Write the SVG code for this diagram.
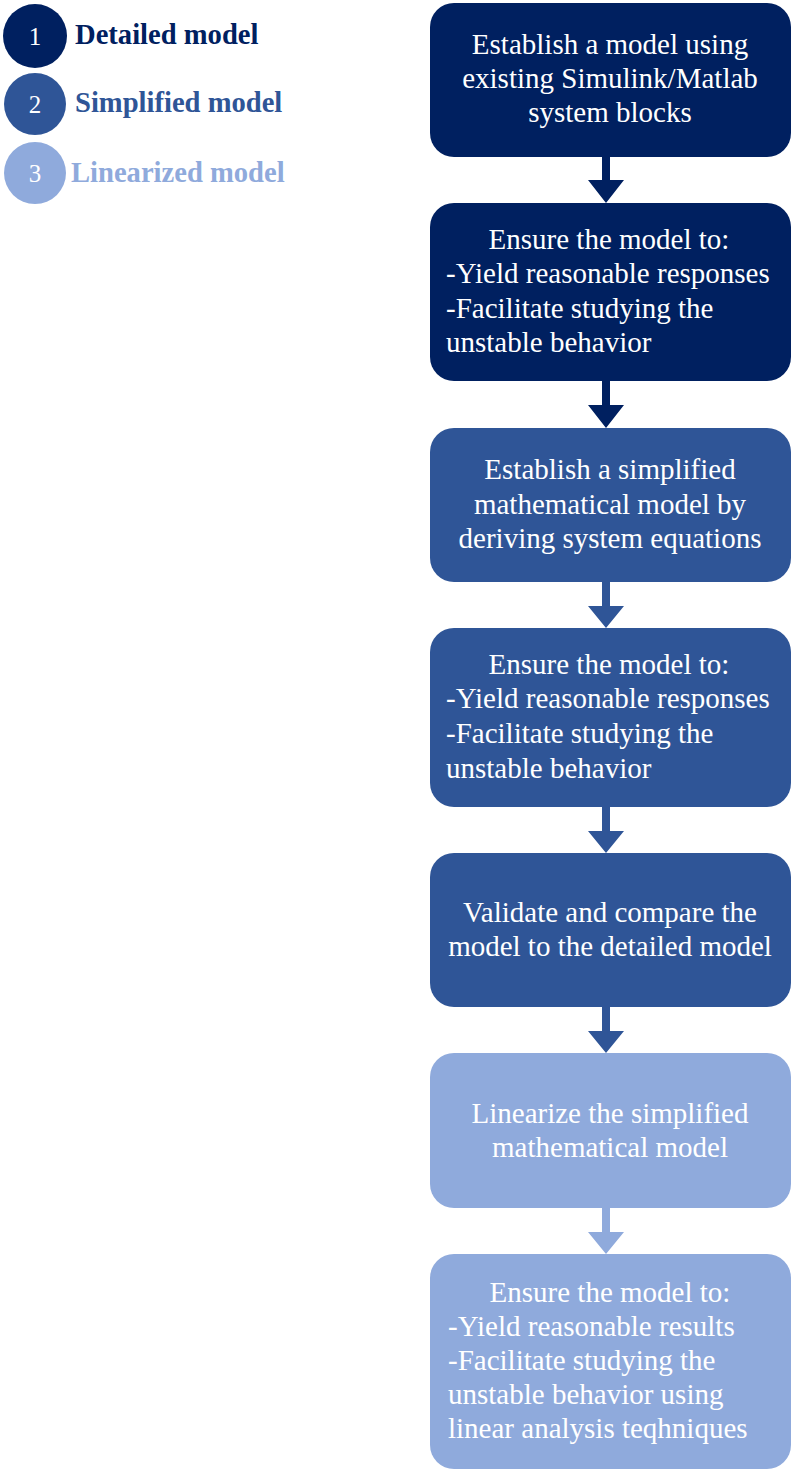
<svg xmlns="http://www.w3.org/2000/svg" width="791" height="1470" viewBox="0 0 791 1470">
<style>
.t{font-family:"Liberation Serif","Times New Roman",serif;font-size:29px;fill:#fff}
.c{text-anchor:middle}
.lg{font-family:"Liberation Serif","Times New Roman",serif;font-size:28.6px;font-weight:bold}
.num{font-family:"Liberation Serif","Times New Roman",serif;font-size:25px;fill:#fff;text-anchor:middle}
.d{fill:#002060}.m{fill:#2F5597}.l{fill:#8FAADC}
</style>
<g id="legend">
<g id="legend1"><circle cx="35" cy="36" r="32" class="d"/><text x="35" y="45" class="num">1</text><text x="75" y="44" class="lg" fill="#002060">Detailed model</text></g>
<g id="legend2"><circle cx="35" cy="104" r="31" class="m"/><text x="35" y="113" class="num">2</text><text x="75" y="112" class="lg" fill="#2F5597">Simplified model</text></g>
<g id="legend3"><circle cx="35" cy="173" r="31" class="l"/><text x="35" y="182" class="num">3</text><text x="71" y="182" class="lg" fill="#8FAADC">Linearized model</text></g>
</g>
<g id="connectors">
<polygon class="d" points="602,157 610,157 610,180 624,180 606,203 588,180 602,180"/>
<polygon class="d" points="602,381 610,381 610,405 624,405 606,428 588,405 602,405"/>
<polygon class="m" points="602,582 610,582 610,606 624,606 606,628 588,606 602,606"/>
<polygon class="m" points="602,807 610,807 610,831 624,831 606,853 588,831 602,831"/>
<polygon class="m" points="602,1007 610,1007 610,1031 624,1031 606,1053 588,1031 602,1031"/>
<polygon class="l" points="602,1208 610,1208 610,1232 624,1232 606,1254 588,1232 602,1232"/>
</g>
<g id="box1"><rect x="430" y="3" width="361" height="154" rx="24" class="d"/>
<text class="t c" x="610" y="54">Establish a model using</text>
<text class="t c" x="610" y="88">existing Simulink/Matlab</text>
<text class="t c" x="610" y="122">system blocks</text></g>
<g id="box2"><rect x="430" y="203" width="361" height="178" rx="24" class="d"/>
<text class="t c" x="609" y="249">Ensure the model to:</text>
<text class="t" x="446" y="283">-Yield reasonable responses</text>
<text class="t" x="446" y="318">-Facilitate studying the</text>
<text class="t" x="446" y="352">unstable behavior</text></g>
<g id="box3"><rect x="430" y="428" width="361" height="154" rx="24" class="m"/>
<text class="t c" x="610" y="479">Establish a simplified</text>
<text class="t c" x="610" y="514">mathematical model by</text>
<text class="t c" x="610" y="548">deriving system equations</text></g>
<g id="box4"><rect x="430" y="628" width="361" height="179" rx="24" class="m"/>
<text class="t c" x="609" y="674">Ensure the model to:</text>
<text class="t" x="446" y="708">-Yield reasonable responses</text>
<text class="t" x="446" y="743">-Facilitate studying the</text>
<text class="t" x="446" y="778">unstable behavior</text></g>
<g id="box5"><rect x="430" y="853" width="361" height="154" rx="24" class="m"/>
<text class="t c" x="610" y="922">Validate and compare the</text>
<text class="t c" x="610" y="956">model to the detailed model</text></g>
<g id="box6"><rect x="430" y="1053" width="361" height="155" rx="24" class="l"/>
<text class="t c" x="610" y="1123">Linearize the simplified</text>
<text class="t c" x="610" y="1157">mathematical model</text></g>
<g id="box7"><rect x="430" y="1254" width="361" height="215" rx="24" class="l"/>
<text class="t c" x="610" y="1302">Ensure the model to:</text>
<text class="t" x="448" y="1336">-Yield reasonable results</text>
<text class="t" x="448" y="1370">-Facilitate studying the</text>
<text class="t" x="448" y="1404">unstable behavior using</text>
<text class="t" x="448" y="1438">linear analysis teqhniques</text></g>
</svg>
